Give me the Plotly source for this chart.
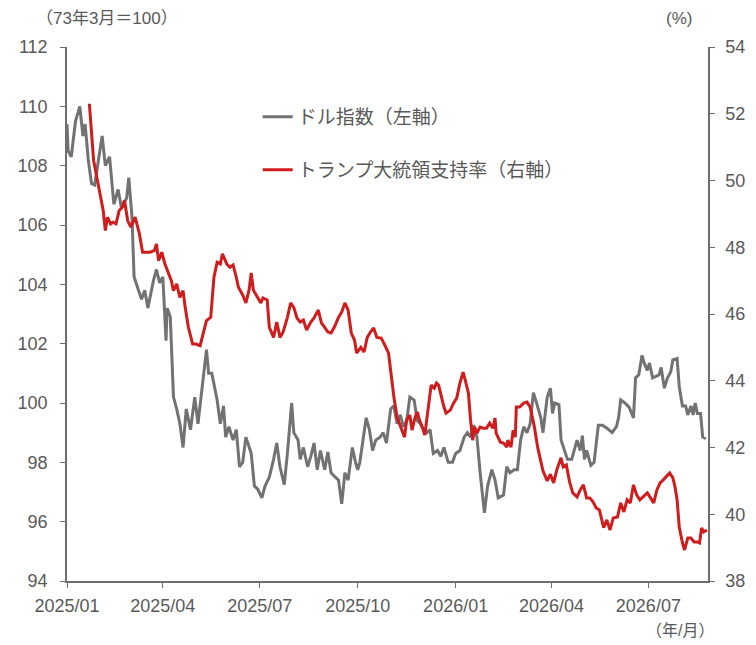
import plotly.graph_objects as go

# dollar index (1973/03 = 100), left axis
dxy_dates = [
    "2025-01-01", "2025-01-02", "2025-01-05", "2025-01-09", "2025-01-13", "2025-01-16", "2025-01-18",
    "2025-01-21", "2025-01-24", "2025-01-27", "2025-01-31", "2025-02-03", "2025-02-06", "2025-02-10",
    "2025-02-14", "2025-02-18", "2025-02-21", "2025-02-26", "2025-02-28", "2025-03-03", "2025-03-05",
    "2025-03-09", "2025-03-12", "2025-03-15", "2025-03-18", "2025-03-23", "2025-03-26", "2025-03-29",
    "2025-04-01", "2025-04-04", "2025-04-05", "2025-04-08", "2025-04-11", "2025-04-14", "2025-04-17",
    "2025-04-20", "2025-04-23", "2025-04-27", "2025-05-01", "2025-05-04", "2025-05-08", "2025-05-12",
    "2025-05-14", "2025-05-17", "2025-05-22", "2025-05-25", "2025-05-28", "2025-05-30", "2025-06-02",
    "2025-06-06", "2025-06-09", "2025-06-12", "2025-06-15", "2025-06-18", "2025-06-23", "2025-06-26",
    "2025-06-29", "2025-07-03", "2025-07-06", "2025-07-10", "2025-07-14", "2025-07-17", "2025-07-20",
    "2025-07-24", "2025-07-27", "2025-07-31", "2025-08-02", "2025-08-06", "2025-08-08", "2025-08-11",
    "2025-08-15", "2025-08-18", "2025-08-21", "2025-08-24", "2025-08-27", "2025-08-31", "2025-09-03",
    "2025-09-06", "2025-09-10", "2025-09-13", "2025-09-16", "2025-09-19", "2025-09-22", "2025-09-26",
    "2025-09-29", "2025-10-01", "2025-10-03", "2025-10-09", "2025-10-12", "2025-10-15", "2025-10-18",
    "2025-10-22", "2025-10-25", "2025-10-28", "2025-11-01", "2025-11-04", "2025-11-07", "2025-11-10",
    "2025-11-13", "2025-11-16", "2025-11-19", "2025-11-23", "2025-11-26", "2025-11-29", "2025-12-02",
    "2025-12-05", "2025-12-08", "2025-12-11", "2025-12-15", "2025-12-18", "2025-12-21", "2025-12-25",
    "2025-12-29", "2026-01-01", "2026-01-05", "2026-01-09", "2026-01-12", "2026-01-15", "2026-01-18",
    "2026-01-21", "2026-01-24", "2026-01-28", "2026-01-31", "2026-02-04", "2026-02-07", "2026-02-10",
    "2026-02-15", "2026-02-18", "2026-02-21", "2026-02-25", "2026-02-28", "2026-03-03", "2026-03-06",
    "2026-03-09", "2026-03-12", "2026-03-15", "2026-03-18", "2026-03-22", "2026-03-24", "2026-03-28",
    "2026-03-31", "2026-04-02", "2026-04-04", "2026-04-08", "2026-04-10", "2026-04-13", "2026-04-16",
    "2026-04-20", "2026-04-23", "2026-04-25", "2026-04-28", "2026-04-30", "2026-05-02", "2026-05-04",
    "2026-05-08", "2026-05-11", "2026-05-15", "2026-05-19", "2026-05-23", "2026-05-28", "2026-06-01",
    "2026-06-03", "2026-06-05", "2026-06-09", "2026-06-13", "2026-06-17", "2026-06-19", "2026-06-22",
    "2026-06-25", "2026-06-27", "2026-06-30", "2026-07-02", "2026-07-05", "2026-07-08", "2026-07-11",
    "2026-07-13", "2026-07-16", "2026-07-19", "2026-07-22", "2026-07-24", "2026-07-28", "2026-07-30",
    "2026-08-02", "2026-08-05", "2026-08-07", "2026-08-10", "2026-08-12", "2026-08-14", "2026-08-16",
    "2026-08-19", "2026-08-21", "2026-08-24",
]
dxy_values = [
    109.4, 108.5, 108.3, 109.5, 110.0, 109.0, 109.4,
    108.2, 107.4, 107.35, 108.3, 109.0, 108.0, 108.3,
    106.7, 107.2, 106.6, 106.9, 107.6, 106.3, 104.25,
    103.8, 103.5, 103.8, 103.2, 104.1, 104.5, 104.05,
    104.25, 102.1, 103.2, 102.9, 100.2, 99.8, 99.3,
    98.5, 99.8, 99.1, 100.2, 99.3, 100.5, 101.8,
    101.0, 101.0, 100.1, 99.3, 99.9, 98.85, 99.2,
    98.75, 99.1, 97.85, 98.0, 98.85, 98.3, 97.2,
    97.1, 96.8, 97.2, 97.5, 98.1, 98.65, 97.85,
    97.25, 98.3, 100.0, 99.0, 98.75, 98.1, 98.5,
    97.85, 98.2, 98.65, 97.75, 98.4, 97.75, 98.35,
    97.65, 97.5, 97.4, 96.6, 97.65, 97.4, 98.5,
    98.0, 97.75, 98.0, 99.5, 99.1, 98.4, 98.75,
    98.85, 99.0, 98.65, 99.8, 99.9, 99.3, 99.6,
    99.2, 99.4, 100.2, 100.1, 99.4, 99.3, 99.1,
    99.0, 99.1, 98.3, 98.4, 98.2, 98.5, 98.0,
    98.0, 98.3, 98.4, 98.85, 99.0, 98.85, 99.25,
    98.85, 97.65, 96.3, 97.2, 97.75, 97.4, 96.8,
    96.9, 97.85, 97.65, 97.75, 97.75, 98.75, 99.2,
    99.0, 99.3, 100.35, 100.0, 99.5, 99.0, 100.2,
    100.5, 99.65, 100.0, 99.95, 98.75, 98.4, 98.1,
    98.1, 98.5, 98.75, 98.4, 98.9, 98.1, 98.4,
    97.9, 98.0, 99.25, 99.25, 99.15, 99.0, 99.2,
    99.5, 100.1, 100.0, 99.85, 99.5, 100.85, 100.95,
    101.6, 101.35, 101.1, 101.35, 100.85, 100.9, 100.95,
    101.2, 100.5, 100.85, 101.05, 101.45, 101.5, 100.55,
    99.9, 99.9, 99.6, 99.9, 99.6, 100.0, 99.65,
    99.65, 98.85, 98.8,
]

# approval rating (%), right axis
approval_dates = [
    "2025-01-22", "2025-01-24", "2025-01-26", "2025-01-29", "2025-02-01", "2025-02-04", "2025-02-06",
    "2025-02-08", "2025-02-11", "2025-02-13", "2025-02-16", "2025-02-19", "2025-02-22", "2025-02-24",
    "2025-02-27", "2025-03-02", "2025-03-06", "2025-03-10", "2025-03-13", "2025-03-20", "2025-03-24",
    "2025-03-26", "2025-03-28", "2025-03-31", "2025-04-03", "2025-04-06", "2025-04-09", "2025-04-11",
    "2025-04-14", "2025-04-17", "2025-04-20", "2025-04-22", "2025-04-25", "2025-04-29", "2025-05-02",
    "2025-05-06", "2025-05-09", "2025-05-12", "2025-05-16", "2025-05-19", "2025-05-22", "2025-05-25",
    "2025-05-27", "2025-05-31", "2025-06-03", "2025-06-06", "2025-06-09", "2025-06-11", "2025-06-15",
    "2025-06-18", "2025-06-21", "2025-06-23", "2025-06-25", "2025-06-28", "2025-07-02", "2025-07-04",
    "2025-07-08", "2025-07-10", "2025-07-14", "2025-07-17", "2025-07-20", "2025-07-23", "2025-07-27",
    "2025-07-30", "2025-08-02", "2025-08-05", "2025-08-08", "2025-08-11", "2025-08-14", "2025-08-18",
    "2025-08-21", "2025-08-25", "2025-08-28", "2025-08-31", "2025-09-03", "2025-09-06", "2025-09-09",
    "2025-09-13", "2025-09-16", "2025-09-19", "2025-09-22", "2025-09-25", "2025-09-28", "2025-09-30",
    "2025-10-04", "2025-10-07", "2025-10-10", "2025-10-13", "2025-10-16", "2025-10-19", "2025-10-23",
    "2025-10-26", "2025-10-30", "2025-11-01", "2025-11-04", "2025-11-07", "2025-11-09", "2025-11-12",
    "2025-11-14", "2025-11-16", "2025-11-19", "2025-11-21", "2025-11-24", "2025-11-26", "2025-11-28",
    "2025-12-01", "2025-12-03", "2025-12-06", "2025-12-09", "2025-12-12", "2025-12-14", "2025-12-16",
    "2025-12-19", "2025-12-21", "2025-12-23", "2025-12-27", "2025-12-30", "2026-01-02", "2026-01-05",
    "2026-01-08", "2026-01-10", "2026-01-13", "2026-01-15", "2026-01-17", "2026-01-19", "2026-01-21",
    "2026-01-24", "2026-01-27", "2026-01-30", "2026-02-02", "2026-02-05", "2026-02-07", "2026-02-08",
    "2026-02-12", "2026-02-15", "2026-02-18", "2026-02-19", "2026-02-22", "2026-02-24", "2026-02-26",
    "2026-02-27", "2026-03-02", "2026-03-06", "2026-03-09", "2026-03-12", "2026-03-14", "2026-03-16",
    "2026-03-19", "2026-03-21", "2026-03-24", "2026-03-28", "2026-03-31", "2026-04-03", "2026-04-06",
    "2026-04-10", "2026-04-12", "2026-04-15", "2026-04-18", "2026-04-21", "2026-04-25", "2026-04-28",
    "2026-05-01", "2026-05-04", "2026-05-07", "2026-05-10", "2026-05-13", "2026-05-16", "2026-05-20",
    "2026-05-23", "2026-05-26", "2026-05-29", "2026-06-02", "2026-06-05", "2026-06-08", "2026-06-11",
    "2026-06-14", "2026-06-17", "2026-06-20", "2026-06-23", "2026-06-26", "2026-06-30", "2026-07-03",
    "2026-07-06", "2026-07-09", "2026-07-12", "2026-07-15", "2026-07-18", "2026-07-21", "2026-07-24",
    "2026-07-26", "2026-07-28", "2026-07-30", "2026-08-02", "2026-08-04", "2026-08-07", "2026-08-10",
    "2026-08-13", "2026-08-16", "2026-08-18", "2026-08-20", "2026-08-22", "2026-08-25",
]
approval_values = [
    52.3, 51.5, 50.6, 50.1, 49.6, 49.1, 48.5,
    48.9, 48.7, 48.75, 48.7, 49.1, 49.2, 49.4,
    48.8, 48.6, 48.9, 48.4, 47.85, 47.85, 47.9,
    48.1, 47.6, 47.85, 47.5, 47.25, 47.0, 46.7,
    46.9, 46.5, 46.7, 46.2, 45.6, 45.1, 45.1,
    45.05, 45.4, 45.8, 45.9, 47.1, 47.55, 47.5,
    47.8, 47.5, 47.4, 47.47, 47.1, 46.8, 46.57,
    46.33, 46.72, 47.23, 46.72, 46.57, 46.33, 46.48,
    46.42, 45.6, 45.3, 45.76, 45.3, 45.46, 45.9,
    46.33, 46.2, 45.88, 45.76, 45.82, 45.52, 45.76,
    45.88, 46.12, 45.73, 45.6, 45.46, 45.43, 45.6,
    45.9, 46.06, 46.33, 46.12, 45.43, 45.22, 44.83,
    45.0, 44.86, 45.3, 45.46, 45.58, 45.3, 45.28,
    45.1, 44.83, 44.3, 43.51, 42.91, 42.73, 42.43,
    42.31, 42.82, 42.97, 42.52, 42.91, 43.06, 42.82,
    42.58, 42.37, 43.12, 43.87, 43.78, 43.93, 43.87,
    43.42, 43.21, 43.03, 43.12, 43.33, 43.48, 43.93,
    44.26, 44.02, 43.63, 42.82, 42.22, 42.61, 42.43,
    42.61, 42.58, 42.58, 42.73, 42.58, 42.88, 42.43,
    42.16, 42.13, 42.01, 42.22, 42.01, 42.52, 42.31,
    43.21, 43.21, 43.33, 43.36, 43.21, 42.91, 42.61,
    42.01, 41.75, 41.3, 41.0, 41.2, 40.94, 41.33,
    41.69, 41.42, 41.48, 40.97, 40.64, 40.52, 40.73,
    40.88, 40.49, 40.49, 40.37, 40.19, 40.13, 39.6,
    39.83, 39.53, 39.89, 39.92, 40.34, 40.07, 40.43,
    40.34, 40.88, 40.58, 40.43, 40.52, 40.64, 40.49,
    40.34, 40.73, 40.94, 41.03, 41.12, 41.24, 41.09,
    40.82, 40.43, 39.62, 39.14, 38.93, 39.29, 39.29,
    39.17, 39.17, 39.14, 39.59, 39.47, 39.53,
]

x_tick_dates = ["2025-01-01", "2025-04-01", "2025-07-01", "2025-10-01",
                "2026-01-01", "2026-04-01", "2026-07-01"]
x_tick_labels = ["2025/01", "2025/04", "2025/07", "2025/10", "2026/01", "2026/04", "2026/07"]

gray = "#727272"
red = "#cf1d1d"
text_color = "#595959"
axis_color = "#6e6e6e"
font_family = "Liberation Sans, Arial, Noto Sans CJK JP, sans-serif"

fig = go.Figure()
fig.add_trace(go.Scatter(x=dxy_dates, y=dxy_values, name="ドル指数（左軸）", mode="lines",
                         line=dict(color=gray, width=3), legend="legend"))
fig.add_trace(go.Scatter(x=approval_dates, y=approval_values, name="トランプ大統領支持率（右軸）",
                         mode="lines", line=dict(color=red, width=3), yaxis="y2", legend="legend2"))

axis_common = dict(showgrid=False, zeroline=False, showline=True, linecolor=axis_color, linewidth=1.5,
                   ticks="outside", ticklen=5, tickcolor=axis_color, automargin=False,
                   tickfont=dict(size=18, color=text_color, family=font_family))

legend_common = dict(bgcolor="rgba(0,0,0,0)", xanchor="left", yanchor="middle",
                     font=dict(size=19, color=text_color, family=font_family))

note_font = dict(size=17, color=text_color, family=font_family)

# the page body adds an 8px offset, so the figure is drawn 8px smaller than the window
fig.update_layout(
    width=748, height=637,
    margin=dict(l=59, r=48, t=39, b=64),
    plot_bgcolor="white", paper_bgcolor="white",
    font=dict(family=font_family, color=text_color),
    showlegend=True,
    xaxis=dict(type="date", range=["2025-01-01", "2026-08-26"], tickvals=x_tick_dates,
               ticktext=x_tick_labels, ticklabelstandoff=3, **axis_common),
    yaxis=dict(range=[94, 112], tickvals=list(range(94, 113, 2)), ticklabelstandoff=9,
               **axis_common),
    yaxis2=dict(range=[38, 54], tickvals=list(range(38, 55, 2)), overlaying="y", side="right",
                ticklabelstandoff=7, **axis_common),
    legend=dict(x=0.2975, y=0.869, **legend_common),
    legend2=dict(x=0.2975, y=0.77, **legend_common),
    annotations=[
        dict(text="（73年3月＝100）", xref="paper", yref="paper", x=0.063, y=1.054,
             xanchor="center", yanchor="middle", showarrow=False, font=note_font),
        dict(text="(%)", xref="paper", yref="paper", x=0.955, y=1.054,
             xanchor="center", yanchor="middle", showarrow=False, font=note_font),
        dict(text="（年/月）", xref="paper", yref="paper", x=0.956, y=-0.092,
             xanchor="center", yanchor="middle", showarrow=False,
             font=dict(size=16, color=text_color, family=font_family)),
    ],
)

fig.write_html("out.html")
